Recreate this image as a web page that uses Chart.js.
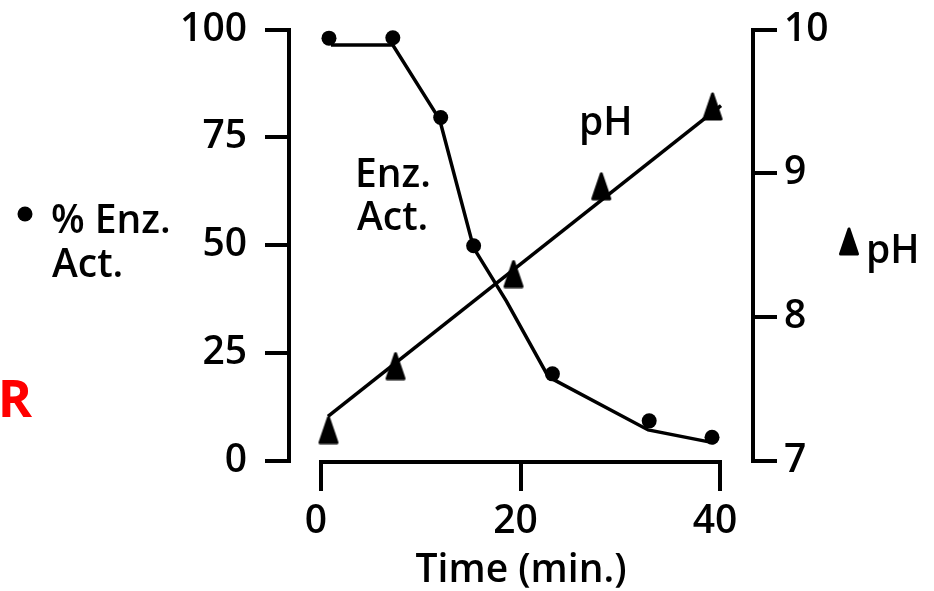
<!DOCTYPE html>
<html>
<head>
<meta charset="utf-8">
<script src="https://cdn.jsdelivr.net/npm/chart.js@4.4.1/dist/chart.umd.min.js"></script>
<style>
  html, body { margin: 0; padding: 0; background: #fff; }
</style>
</head>
<body>
<canvas id="chart" width="934" height="591"></canvas>
<script>
// measured points
const enzTime = [0.8, 7.2, 12.0, 15.3, 23.2, 32.9, 39.2];
const enzAct = [98.0, 98.1, 79.6, 49.9, 20.2, 9.3, 5.5];

// hand drawn curve through the enzyme points
const enzFitTime = [1.0, 7.2, 11.9, 15.3, 18.6, 22.8, 32.8, 39.4];
const enzFitAct = [96.4, 96.4, 79.1, 49.4, 37.0, 19.5, 7.2, 4.2];

const phTime = [0.75, 7.47, 19.3, 28.1, 39.25];
const phVals = [7.215, 7.66, 8.30, 8.91, 9.465];

const phFitTime = [0.7, 40.1];
const phFitVals = [7.31, 9.47];

const xTicks = [0, 20, 40];
const FONT = '"Open Sans", sans-serif';

function toXY(xs, ys) {
    return xs.map((x, i) => ({ x: x, y: ys[i] }));
}

function triangleMarker(w, h) {
    const c = document.createElement('canvas');
    c.width = w;
    c.height = h;
    const g = c.getContext('2d');
    g.fillStyle = '#000';
    g.strokeStyle = '#000';
    g.lineWidth = 3;
    g.lineJoin = 'round';
    g.beginPath();
    g.moveTo(w / 2, 2);
    g.lineTo(w - 2.5, h - 2);
    g.lineTo(2.5, h - 2);
    g.closePath();
    g.fill();
    g.stroke();
    return c;
}
const tri = triangleMarker(22, 29);

// keep label overflow from pushing the plot area down
function fixY(width) {
    return (s) => {
        s.width = width;
        s.paddingTop = 0;
        s.paddingBottom = 0;
    };
}

const decor = {
    id: 'decor',
    afterDraw(chart) {
        const ctx = chart.ctx;
        const xs = chart.scales.x;
        const bottom = chart.chartArea.bottom;
        ctx.save();
        // x axis line only spans 0..40
        ctx.strokeStyle = '#000';
        ctx.lineWidth = 4;
        ctx.beginPath();
        ctx.moveTo(xs.getPixelForValue(0) - 2, bottom + 1);
        ctx.lineTo(xs.getPixelForValue(40) + 2, bottom + 1);
        ctx.stroke();

        ctx.fillStyle = '#000';
        ctx.font = '600 39px ' + FONT;
        ctx.textBaseline = 'alphabetic';
        ctx.textAlign = 'left';
        // left key
        ctx.beginPath();
        ctx.arc(25, 214, 7.5, 0, Math.PI * 2);
        ctx.fill();
        ctx.fillText('% Enz.', 51, 233);
        ctx.fillText('Act.', 52, 277);
        // right key
        ctx.drawImage(tri, 838, 227);
        ctx.fillText('pH', 866, 263);
        // labels inside the plot
        ctx.fillText('Enz.', 355, 187);
        ctx.fillText('Act.', 357, 230);
        ctx.fillText('pH', 579, 135);

        // cropped red text at the left edge
        ctx.fillStyle = '#ff0000';
        ctx.font = '700 52px ' + FONT;
        ctx.textAlign = 'right';
        ctx.fillText('AR', 32, 417);
        ctx.restore();
    }
};

const ctx = document.getElementById('chart').getContext('2d');

const tickFont = { family: FONT, size: 39, weight: 600 };

let chart = new Chart(ctx, {
    type: 'scatter',
    data: {
        datasets: [
            {
                label: '% Enz. Act.',
                data: toXY(enzTime, enzAct),
                yAxisID: 'y',
                showLine: false,
                pointStyle: 'circle',
                pointRadius: 7.5,
                backgroundColor: '#000',
                borderColor: '#000',
                borderWidth: 0,
                clip: false
            },
            {
                label: 'pH',
                data: toXY(phTime, phVals),
                yAxisID: 'y1',
                showLine: false,
                pointStyle: tri,
                pointRadius: 11,
                backgroundColor: '#000',
                borderColor: '#000',
                clip: false
            },
            {
                label: 'enz fit',
                data: toXY(enzFitTime, enzFitAct),
                yAxisID: 'y',
                showLine: true,
                pointRadius: 0,
                borderColor: '#000',
                borderWidth: 3.5,
                tension: 0,
                clip: false
            },
            {
                label: 'pH fit',
                data: toXY(phFitTime, phFitVals),
                yAxisID: 'y1',
                showLine: true,
                pointRadius: 0,
                borderColor: '#000',
                borderWidth: 3.5,
                tension: 0,
                clip: false
            }
        ]
    },
    options: {
        responsive: false,
        animation: false,
        devicePixelRatio: 1,
        layout: { padding: { top: 29.5, left: 0, right: 0, bottom: 0 } },
        plugins: {
            legend: { display: false },
            tooltip: { enabled: false }
        },
        scales: {
            x: {
                type: 'linear',
                min: -3.208,
                max: 43.308,
                afterBuildTicks: (s) => { s.ticks = xTicks.map(v => ({ value: v })); },
                afterFit: (s) => { s.height = 130; },
                border: { display: false },
                grid: { drawOnChartArea: false, drawTicks: true, tickLength: 30, lineWidth: 4, color: '#000' },
                ticks: { font: tickFont, color: '#000', padding: 7, labelOffset: -5, maxRotation: 0 },
                title: {
                    display: true,
                    text: 'Time (min.)',
                    color: '#000',
                    font: tickFont,
                    padding: { top: 0, bottom: -3 }
                }
            },
            y: {
                type: 'linear',
                position: 'left',
                min: 0,
                max: 100,
                ticks: { stepSize: 25, font: tickFont, color: '#000', padding: 18 },
                afterFit: fixY(289),
                border: { display: true, color: '#000', width: 4 },
                grid: { drawOnChartArea: false, drawTicks: true, tickLength: 24, lineWidth: 4, color: '#000' }
            },
            y1: {
                type: 'linear',
                position: 'right',
                min: 7,
                max: 10,
                ticks: { stepSize: 1, font: tickFont, color: '#000', padding: 7 },
                afterFit: fixY(181),
                border: { display: true, color: '#000', width: 4 },
                grid: { drawOnChartArea: false, drawTicks: true, tickLength: 24, lineWidth: 4, color: '#000' }
            }
        }
    },
    plugins: [decor]
});
</script>
</body>
</html>
